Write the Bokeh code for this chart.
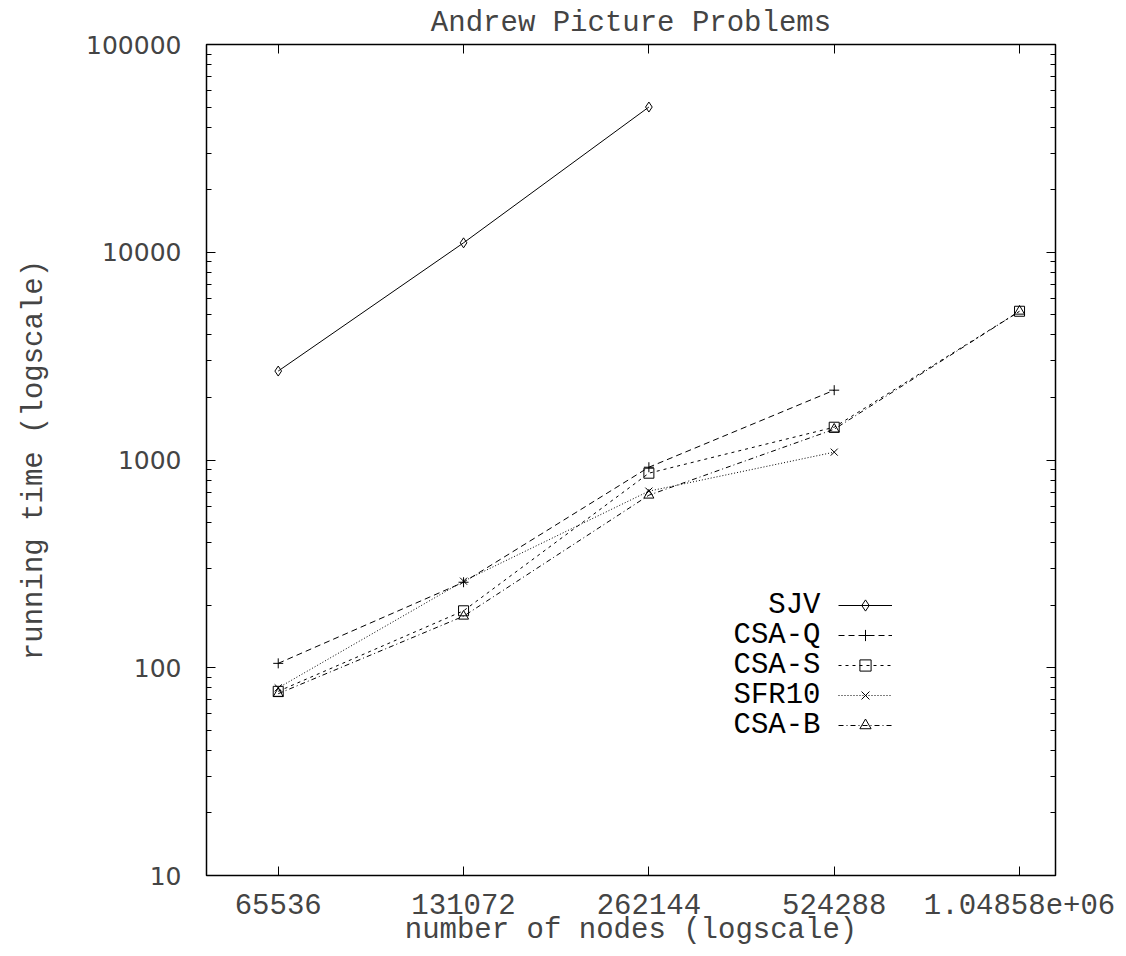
from bokeh.plotting import figure
from bokeh.models import LogAxis, FixedTicker, Legend, LegendItem, Label, Range1d
from bokeh.embed import file_html
from bokeh.resources import INLINE

# ---- data -------------------------------------------------------------
nodes = [65536, 131072, 262144, 524288, 1048576]
x_labels = ["65536", "131072", "262144", "524288", "1.04858e+06"]
y_ticks = [10, 100, 1000, 10000, 100000]
y_labels = ["10", "100", "1000", "10000", "100000"]

sjv = [2680, 11100, 50000]
csa_q = [105, 258, 923, 2168]
csa_s = [77, 188, 864, 1438, 5200]
sfr10 = [80, 261, 708, 1091]
csa_b = [75, 177, 677, 1406, 5200]

series_names = ["SJV", "CSA-Q", "CSA-S", "SFR10", "CSA-B"]
series_values = [sjv, csa_q, csa_s, sfr10, csa_b]
markers = ["diamond", "cross", "square", "x", "triangle"]
dashes = ["solid", "6 4", "3 4", "1 2", "5 3 1 3"]

MONO = "Liberation Mono"
SANS = "DejaVu Sans"

# ---- figure -----------------------------------------------------------
p = figure(
    width=1120, height=950,
    x_axis_type="log", y_axis_type="log",
    x_range=Range1d(2 ** 15.613, 2 ** 20.194),
    y_range=Range1d(10, 100000),
    output_backend="svg", toolbar_location=None,
    min_border_left=206, min_border_right=65,
    min_border_top=44, min_border_bottom=75,
    title="Andrew Picture Problems",
)
p.title.text_font = MONO
p.title.text_font_size = "29px"
p.title.text_font_style = "normal"
p.title.align = "center"
p.title.standoff = 9

p.grid.visible = False
p.outline_line_color = "black"
p.outline_line_width = 1.5
p.background_fill_color = "white"
p.border_fill_color = "white"

y_minor = [m * 10 ** d for d in range(1, 5) for m in range(2, 10)]


def style_axis(ax):
    ax.axis_line_color = None
    ax.major_tick_in = 9
    ax.major_tick_out = 0
    ax.minor_tick_in = 5
    ax.minor_tick_out = 0
    ax.major_tick_line_color = "black"
    ax.minor_tick_line_color = "black"
    ax.major_tick_line_width = 1
    ax.minor_tick_line_width = 1


# bottom x axis
xa = p.xaxis[0]
xa.ticker = FixedTicker(ticks=nodes, minor_ticks=[])
xa.major_label_overrides = {n: s for n, s in zip(nodes, x_labels)}
xa.major_label_text_font = MONO
xa.major_label_text_font_size = "29px"
xa.major_label_standoff = 18
xa.axis_label = "number of nodes (logscale)"
xa.axis_label_text_font = MONO
xa.axis_label_text_font_size = "29px"
xa.axis_label_text_font_style = "normal"
xa.axis_label_standoff = -3
style_axis(xa)

# left y axis
ya = p.yaxis[0]
ya.ticker = FixedTicker(ticks=y_ticks, minor_ticks=y_minor)
ya.major_label_overrides = {t: s for t, s in zip(y_ticks, y_labels)}
ya.major_label_text_font = SANS
ya.major_label_text_font_size = "25px"
ya.major_label_standoff = 25
ya.axis_label = "running time (logscale)"
ya.axis_label_text_font = MONO
ya.axis_label_text_font_size = "29px"
ya.axis_label_text_font_style = "normal"
ya.axis_label_standoff = 32
style_axis(ya)

# mirrored axes (ticks only)
ra = LogAxis(ticker=FixedTicker(ticks=y_ticks, minor_ticks=y_minor))
ra.major_label_overrides = {t: "" for t in y_ticks}
ra.major_label_text_font_size = "1px"
ra.major_label_standoff = 0
style_axis(ra)
p.add_layout(ra, "right")

ta = LogAxis(ticker=FixedTicker(ticks=nodes, minor_ticks=[]))
ta.major_label_overrides = {n: "" for n in nodes}
ta.major_label_text_font_size = "1px"
ta.major_label_standoff = 0
style_axis(ta)
p.add_layout(ta, "above")

# ---- series -----------------------------------------------------------
items = []
for name, vals, mk, dash in zip(series_names, series_values, markers, dashes):
    xs = nodes[:len(vals)]
    lr = p.line(xs, vals, line_color="black", line_width=1, line_dash=dash)
    sr = p.scatter(xs, vals, marker=mk, size=10, line_color="black",
                   line_width=1, fill_color=None)
    items.append(LegendItem(label=" ", renderers=[lr, sr]))

legend = Legend(
    items=items, location=(632, 136), orientation="vertical",
    glyph_width=54, glyph_height=28, label_height=28, label_width=0,
    label_standoff=0, spacing=2, padding=0, margin=0,
    border_line_color=None, background_fill_alpha=0,
    label_text_font_size="10px",
)
p.add_layout(legend)

for i, name in enumerate(series_names):
    p.add_layout(Label(
        x=614, y=270 - 30 * i, x_units="screen", y_units="screen",
        text=name, text_align="right", text_baseline="middle",
        text_font=MONO, text_font_size="29px", text_color="black",
    ))

open("out.html", "w").write(file_html(p, INLINE))
